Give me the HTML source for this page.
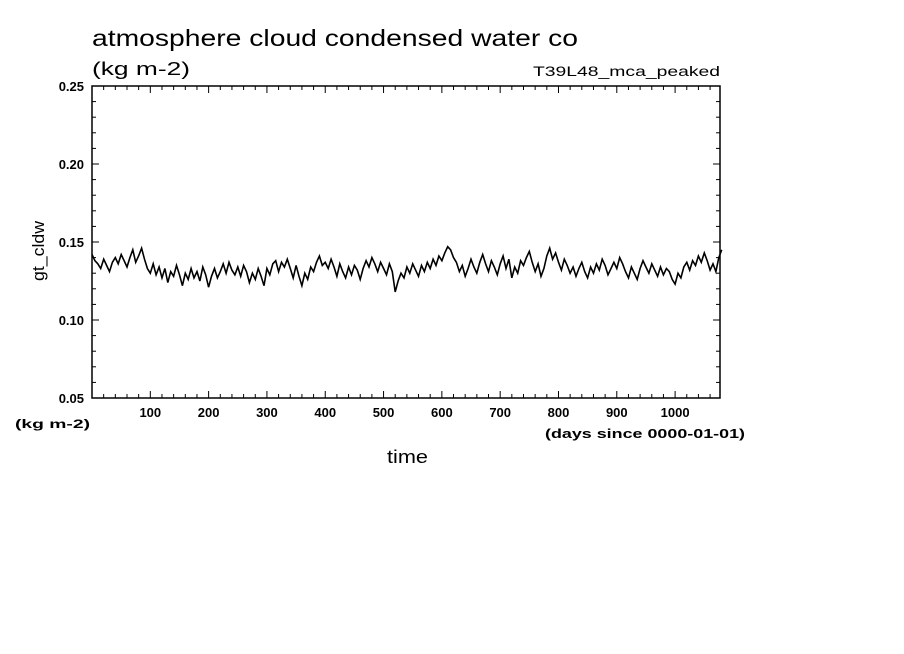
<!DOCTYPE html>
<html><head><meta charset="utf-8"><style>
html,body{margin:0;padding:0;background:#fff;}
svg{display:block;font-family:"Liberation Sans",sans-serif;}
</style></head><body>
<svg width="904" height="654" viewBox="0 0 904 654">
<text x="92" y="46" font-size="23" textLength="486" lengthAdjust="spacingAndGlyphs">atmosphere cloud condensed water co</text>
<text x="92" y="75" font-size="18" textLength="98" lengthAdjust="spacingAndGlyphs">(kg m-2)</text>
<text x="533" y="76" font-size="14" textLength="187" lengthAdjust="spacingAndGlyphs">T39L48_mca_peaked</text>
<text transform="translate(44,251) rotate(-90)" font-size="17" textLength="60" lengthAdjust="spacingAndGlyphs" text-anchor="middle">gt_cldw</text>
<text x="387" y="463" font-size="18" textLength="41" lengthAdjust="spacingAndGlyphs">time</text>
<text x="15" y="428" font-size="12" font-weight="bold" textLength="75" lengthAdjust="spacingAndGlyphs">(kg m-2)</text>
<text x="545" y="438" font-size="12.5" font-weight="bold" textLength="200" lengthAdjust="spacingAndGlyphs">(days since 0000-01-01)</text>
<g id="axes"></g>
<g id="series"></g>
<rect x="92" y="86" width="628" height="312" fill="none" stroke="#000" stroke-width="1.5"/>
</svg>
<script>
const xTicks=[100,200,300,400,500,600,700,800,900,1000];
const yTicks=[0.05,0.10,0.15,0.20,0.25];
const yTickLabels=["0.05","0.10","0.15","0.20","0.25"];
const dayStart=0, dayStep=5;
const values=[
0.142,0.138,0.136,0.133,0.139,0.135,0.131,0.137,0.140,0.136,0.142,0.138,0.134,0.140,0.145,0.137,0.141,0.146,0.139,0.133,
0.130,0.136,0.129,0.134,0.127,0.133,0.124,0.131,0.128,0.135,0.129,0.122,0.130,0.126,0.133,0.127,0.131,0.125,0.134,0.129,
0.121,0.128,0.133,0.127,0.131,0.136,0.130,0.137,0.132,0.129,0.134,0.128,0.135,0.131,0.124,0.130,0.126,0.133,0.128,0.122,
0.133,0.129,0.136,0.138,0.131,0.137,0.134,0.139,0.133,0.127,0.135,0.128,0.122,0.130,0.126,0.134,0.131,0.137,0.141,0.135,
0.137,0.133,0.139,0.134,0.128,0.136,0.131,0.127,0.134,0.129,0.135,0.132,0.126,0.133,0.138,0.134,0.140,0.136,0.131,0.137,
0.133,0.129,0.136,0.131,0.118,0.125,0.130,0.127,0.134,0.130,0.136,0.132,0.128,0.135,0.131,0.137,0.133,0.139,0.135,0.141,
0.138,0.143,0.147,0.145,0.140,0.137,0.131,0.135,0.128,0.133,0.139,0.134,0.130,0.137,0.142,0.136,0.131,0.138,0.134,0.129,
0.136,0.141,0.133,0.139,0.127,0.134,0.130,0.138,0.135,0.140,0.144,0.137,0.131,0.136,0.128,0.133,0.141,0.146,0.139,0.143,
0.137,0.132,0.139,0.135,0.130,0.134,0.128,0.133,0.137,0.131,0.127,0.134,0.130,0.136,0.132,0.139,0.135,0.129,0.133,0.137,
0.133,0.140,0.136,0.131,0.127,0.134,0.130,0.126,0.133,0.138,0.134,0.130,0.136,0.132,0.128,0.134,0.129,0.133,0.131,0.126,
0.123,0.130,0.127,0.134,0.137,0.132,0.138,0.135,0.141,0.137,0.143,0.138,0.132,0.136,0.131,0.140,0.145
];
const NS="http://www.w3.org/2000/svg";
const X0=92,X1=720,Y0=398,Y1=86,XMAX=1077,YMIN=0.05,YMAX=0.25;
function xs(d){return X0+(d/XMAX)*(X1-X0);}
function ys(v){return Y0-(v-YMIN)/(YMAX-YMIN)*(Y0-Y1);}
const axes=document.getElementById('axes');
function line(x1,y1,x2,y2,name){const l=document.createElementNS(NS,'line');
l.setAttribute('x1',x1);l.setAttribute('y1',y1);l.setAttribute('x2',x2);l.setAttribute('y2',y2);
l.setAttribute('stroke','#000');l.setAttribute('stroke-width','1');


axes.appendChild(l);}
for(let d=20;d<XMAX;d+=20){const x=xs(d);const major=d%100===0;const len=major?7:4;
line(x,Y0,x,Y0-len,'x-tick');line(x,Y1,x,Y1+len,'x-tick-top');}
for(let v=0.06;v<0.25;v+=0.01){const y=ys(v);const major=Math.abs(v*100-Math.round(v*20)*5)<0.01;const len=major?7:4;
line(X0,y,X0+len,y,'y-tick');line(X1,y,X1-len,y,'y-tick-right');}
xTicks.forEach(d=>{const t=document.createElementNS(NS,'text');
t.setAttribute('x',xs(d));t.setAttribute('y',417);t.setAttribute('text-anchor','middle');
t.setAttribute('font-size','13');t.setAttribute('font-weight','bold');t.textContent=d;


axes.appendChild(t);});
yTicks.forEach((v,i)=>{const t=document.createElementNS(NS,'text');
t.setAttribute('x',84);t.setAttribute('y',ys(v)+5);t.setAttribute('text-anchor','end');
t.setAttribute('font-size','13');t.setAttribute('font-weight','bold');t.textContent=yTickLabels[i];


axes.appendChild(t);});
const pts=values.map((v,i)=>xs(dayStart+i*dayStep).toFixed(1)+','+ys(v).toFixed(1)).join(' ');
const pl=document.createElementNS(NS,'polyline');
pl.setAttribute('points',pts);pl.setAttribute('fill','none');pl.setAttribute('stroke','#000');pl.setAttribute('stroke-width','1.6');


document.getElementById('series').appendChild(pl);
</script>
</body></html>
